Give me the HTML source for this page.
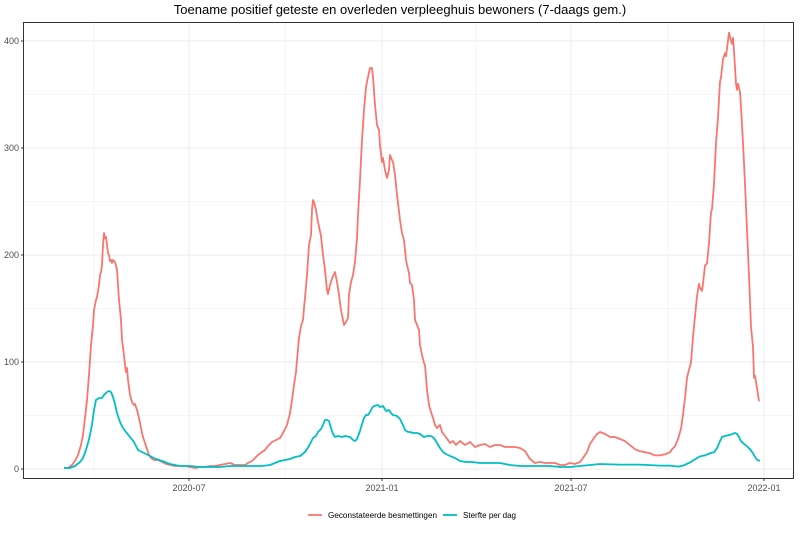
<!DOCTYPE html><html><head><style>body{margin:0;background:#fff}svg{display:block;font-family:"Liberation Sans",sans-serif}</style></head><body>
<svg id="s" width="800" height="533" xmlns="http://www.w3.org/2000/svg">
<rect x="0" y="0" width="800" height="533" fill="#fff"/>
<g id="grid" stroke="#ebebeb" fill="none"></g>
<rect x="23.5" y="22.5" width="770" height="456" fill="none" stroke="#333" stroke-width="1"/>
<text x="400" y="14" text-anchor="middle" font-size="13" fill="#000">Toename positief geteste en overleden verpleeghuis bewoners (7-daags gem.)</text>
<g id="yl" font-size="9" fill="#4d4d4d" text-anchor="end"></g>
<g id="xl" font-size="9" fill="#4d4d4d" text-anchor="middle"></g>
<path id="red" fill="none" stroke="#F8766D" stroke-width="1.8" stroke-linejoin="round"/>
<path id="cyan" fill="none" stroke="#00BFC4" stroke-width="1.8" stroke-linejoin="round"/>
<line x1="308" y1="515" x2="322" y2="515" stroke="#F8766D" stroke-width="1.8"/>
<text x="328" y="518" font-size="8" fill="#000" textLength="109" lengthAdjust="spacingAndGlyphs">Geconstateerde besmettingen</text>
<line x1="443" y1="515" x2="457" y2="515" stroke="#00BFC4" stroke-width="1.8"/>
<text x="463" y="518" font-size="8" fill="#000" textLength="53" lengthAdjust="spacingAndGlyphs">Sterfte per dag</text>
</svg>
<script>
var NS="http://www.w3.org/2000/svg",g=document.getElementById('grid');
function ln(x1,y1,x2,y2,w){var l=document.createElementNS(NS,'line');l.setAttribute('x1',x1);l.setAttribute('y1',y1);l.setAttribute('x2',x2);l.setAttribute('y2',y2);l.setAttribute('stroke-width',w);g.appendChild(l);}
for(var v=0;v<=400;v+=50){var y=469-v*1.07;ln(24,y,793,y,v%100?0.5:1);}
[94,189,285,382,476,571,668,764].forEach(function(x,i){ln(x,23,x,478,i%2?1:0.5);});
var yl=document.getElementById('yl');
[0,100,200,300,400].forEach(function(v){var y=469-v*1.07;var t=document.createElementNS(NS,'text');t.setAttribute('x',19);t.setAttribute('y',y+3);t.textContent=v;yl.appendChild(t);var l=document.createElementNS(NS,'line');l.setAttribute('x1',21);l.setAttribute('x2',24);l.setAttribute('y1',y);l.setAttribute('y2',y);l.setAttribute('stroke','#333');yl.appendChild(l);});
var xl=document.getElementById('xl');
[[189,'2020-07'],[382,'2021-01'],[571,'2021-07'],[764,'2022-01']].forEach(function(a){var t=document.createElementNS(NS,'text');t.setAttribute('x',a[0]);t.setAttribute('y',491);t.textContent=a[1];xl.appendChild(t);var l=document.createElementNS(NS,'line');l.setAttribute('x1',a[0]);l.setAttribute('x2',a[0]);l.setAttribute('y1',478);l.setAttribute('y2',481);l.setAttribute('stroke','#333');xl.appendChild(l);});
var red=[64,468,68,468,72,465,75,461,78,455,81,445,83,435,85,418,87,400,89,375,91,345,93,325,94,310,96,300,97,297,99,285,100,275,101,272,102,265,103,245,104,233,105,238,106,237,107,245,108,253,109,255,110,261,111,260,112,263,113,260,115,262,117,270,119,300,121,320,122,340,124,355,125,365,126,372,127,368,128,380,130,395,132,402,134,405,135,404,137,410,139,418,141,428,143,437,145,443,147,449,149,455,151,458,154,460,158,460,162,462,166,464,170,465,175,466,180,466,185,466,190,467,195,468,200,467,205,467,210,466,215,466,220,465,225,464,230,463,235,465,240,465,245,465,248,463,252,461,255,458,258,455,262,452,265,450,268,446,272,442,276,440,280,438,283,433,287,425,290,413,292,400,294,385,296,372,297,360,299,338,301,326,303,320,304,308,305,298,307,275,309,245,311,235,312,210,313,200,314,202,316,210,318,222,321,236,323,255,325,270,327,290,328,294,330,285,333,276,335,272,337,282,339,295,341,310,343,320,344,325,346,322,348,318,349,295,351,282,353,275,355,262,357,238,358,215,360,180,362,140,364,110,366,87,368,77,370,68,372,68,373,77,375,105,377,125,379,130,380,145,382,162,383,158,385,170,387,178,389,170,390,155,392,160,393,162,395,175,397,195,398,203,400,220,402,233,404,240,406,260,407,265,409,273,410,283,412,285,414,300,415,320,417,325,419,330,420,345,422,355,424,363,425,365,427,390,429,405,431,412,433,418,435,425,437,428,440,425,442,432,445,436,448,440,450,443,453,441,456,445,460,441,465,445,470,442,475,447,480,445,485,444,490,447,495,445,500,445,505,447,510,447,515,447,520,448,525,451,530,459,535,463,540,462,545,463,550,463,555,463,560,465,565,465,570,463,575,464,580,462,583,458,587,452,590,444,594,438,597,434,600,432];
var r3=[605,425,610,428,615,428,620,430,625,432,630,436,635,440,640,442,645,443,650,444,655,446,660,446,665,445,670,443,672,440,675,437,678,430,681,420,683,406,685,390,687,370,689,362,691,355,693,330,695,310,697,290,699,278,700,282,702,285,703,278,705,260,707,258,709,238,711,208,712,205,714,180,716,140,718,115,720,80,721,76,723,58,725,52,726,55,728,40,729,32,731,40,732,43,733,37,734,50,736,82,737,88,738,82,740,90,741,105,743,140,745,180,747,225,749,270,751,320,753,340,754,370,755,368,757,380,759,393];
for(var i=0;i<r3.length;i+=2){red.push(r3[i],r3[i+1]*1.021);}
var cy=[64,468,70,468,75,466,80,462,83,458,86,450,88,443,90,435,92,425,94,410,96,400,99,398,102,398,104,395,107,392,109,391,111,392,113,397,115,404,117,413,120,422,123,428,126,432,130,437,134,442,138,450,142,452,146,454,150,456,156,459,162,461,170,464,180,466,190,466,200,467,210,467,220,467,230,466,240,466,262,466,270,465,275,463,280,461,285,460,290,459,295,457,300,456,305,452,309,446,311,442,313,438,316,436,318,432,321,429,323,425,325,420,327,420,329,421,331,428,333,434,335,437,338,436,342,437,345,436,350,437,353,440,355,441,357,439,360,431,362,424,364,418,366,415,368,415,370,412,372,408,374,406,378,405,380,407,383,406,386,411,389,410,391,413,393,415,397,416,400,419,403,425,405,430,408,432,410,432,413,433,417,433,420,434,424,437,427,436,431,436,434,438,437,443,440,448,443,452,446,454,450,456,455,458,460,461,466,462,472,462,480,463,490,463,500,463,510,465,520,466,530,466,540,466,550,466,560,467,570,467,580,466,590,465,600,464];
var c3=[620,455,630,455,640,455,660,456,670,456,678,457,683,456,690,453,695,450,700,447,705,446,710,444,714,443,717,439,720,432,722,428,725,427,730,426,735,424,737,425,739,428,741,432,743,434,747,437,750,440,753,444,756,449,758,451,760,451];
for(var i=0;i<c3.length;i+=2){cy.push(c3[i],c3[i+1]*1.021);}
function d(a){var s='M'+a[0]+','+a[1];for(var i=2;i<a.length;i+=2)s+='L'+a[i]+','+a[i+1].toFixed(1);return s;}
document.getElementById('red').setAttribute('d',d(red));
document.getElementById('cyan').setAttribute('d',d(cy));
</script>
</body></html>
